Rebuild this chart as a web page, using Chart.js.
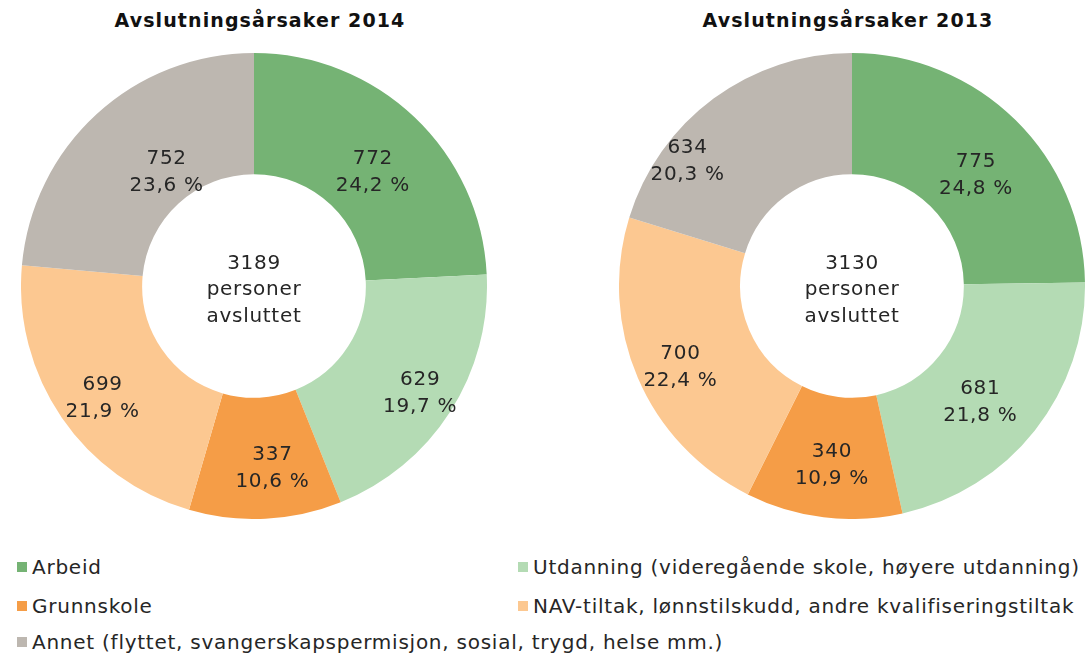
<!DOCTYPE html>
<html>
<head>
<meta charset="utf-8">
<script src="https://cdn.jsdelivr.net/npm/chart.js@4/dist/chart.umd.min.js"></script>
<style>
  html, body { margin: 0; padding: 0; background: #fff; }
  body { width: 1089px; height: 657px; position: relative; overflow: hidden; font-family: "DejaVu Sans", Verdana, sans-serif; color: #262626; }
  .title { position: absolute; top: 9px; font-weight: bold; font-size: 19px; letter-spacing: 1.1px; text-align: center; width: 420px; color: #111; }
  .wrap { position: absolute; top: 53px; width: 466px; height: 466px; }
  .legend { position: absolute; font-size: 20px; letter-spacing: 0.75px; white-space: nowrap; line-height: 22px; }
  .legend .sw { display: inline-block; width: 10px; height: 10px; margin-right: 5px; vertical-align: 2px; }
</style>
</head>
<body>
<div class="title" style="left:50px">Avslutningsårsaker 2014</div>
<div class="title" style="left:638px">Avslutningsårsaker 2013</div>
<div class="wrap" style="left:21px"><canvas id="c2014" width="466" height="466"></canvas></div>
<div class="wrap" style="left:619px"><canvas id="c2013" width="466" height="466"></canvas></div>
<div id="legend"></div>
<script>
const categories = [
  "Arbeid",
  "Utdanning (videregående skole, høyere utdanning)",
  "Grunnskole",
  "NAV-tiltak, lønnstilskudd, andre kvalifiseringstiltak",
  "Annet (flyttet, svangerskapspermisjon, sosial, trygd, helse mm.)"
];
const values2014 = [772, 629, 337, 699, 752];
const values2013 = [775, 681, 340, 700, 634];
const colors = ["#75b374", "#b4dbb4", "#f59d47", "#fcc891", "#bdb7b0"];
const centerLines = ["personer", "avsluttet"];

// label nudges (styling, pixels)
const nudge2014 = [[0, 11], [21, 14], [10, 10], [-9, 15], [29, 13]];
const nudge2013 = [[3, 12], [-7, 9], [1, 8], [-13, 13], [-62, 13]];

const legendPos = [
  [17, 556], [518, 556], [17, 595], [518, 595], [17, 631]
];
const legendEl = document.getElementById('legend');
categories.forEach((c, i) => {
  const d = document.createElement('div');
  d.className = 'legend';
  d.style.left = legendPos[i][0] + 'px';
  d.style.top = legendPos[i][1] + 'px';
  d.innerHTML = '<span class="sw" style="background:' + colors[i] + '"></span>' + c;
  legendEl.appendChild(d);
});

const labelPlugin = {
  id: 'labels',
  afterDatasetsDraw(chart, args, opts) {
    const ctx = chart.ctx;
    const data = chart.data.datasets[0].data;
    const total = data.reduce((a, b) => a + b, 0);
    const meta = chart.getDatasetMeta(0);
    const nudge = opts.nudge || [];
    ctx.save();
    ctx.fillStyle = '#262626';
    ctx.font = '20px "DejaVu Sans", Verdana, sans-serif';
    try { ctx.letterSpacing = '0.7px'; } catch (e) {}
    ctx.textAlign = 'center';
    ctx.textBaseline = 'middle';
    meta.data.forEach((arc, i) => {
      const p = arc.tooltipPosition();
      const n = nudge[i] || [0, 0];
      const x = p.x + n[0], y = p.y + n[1];
      const pct = (data[i] / total * 100).toFixed(1).replace('.', ',') + ' %';
      ctx.fillText(String(data[i]), x, y - 13);
      ctx.fillText(pct, x, y + 14);
    });
    const a = meta.data[0];
    const cx = a.x, cy = a.y + 4;
    ctx.fillText(String(total), cx, cy - 26);
    ctx.fillText(centerLines[0], cx, cy);
    ctx.fillText(centerLines[1], cx, cy + 27);
    ctx.restore();
  }
};

function makeChart(id, values, nudge) {
  return new Chart(document.getElementById(id), {
    type: 'doughnut',
    data: {
      labels: categories,
      datasets: [{ data: values, backgroundColor: colors, borderWidth: 0 }]
    },
    options: {
      responsive: false,
      animation: false,
      cutout: '48%',
      layout: { padding: 0 },
      plugins: {
        legend: { display: false }, tooltip: { enabled: false }, title: { display: false },
        labels: { nudge: nudge }
      }
    },
    plugins: [labelPlugin]
  });
}
makeChart('c2014', values2014, nudge2014);
makeChart('c2013', values2013, nudge2013);
</script>
</body>
</html>
